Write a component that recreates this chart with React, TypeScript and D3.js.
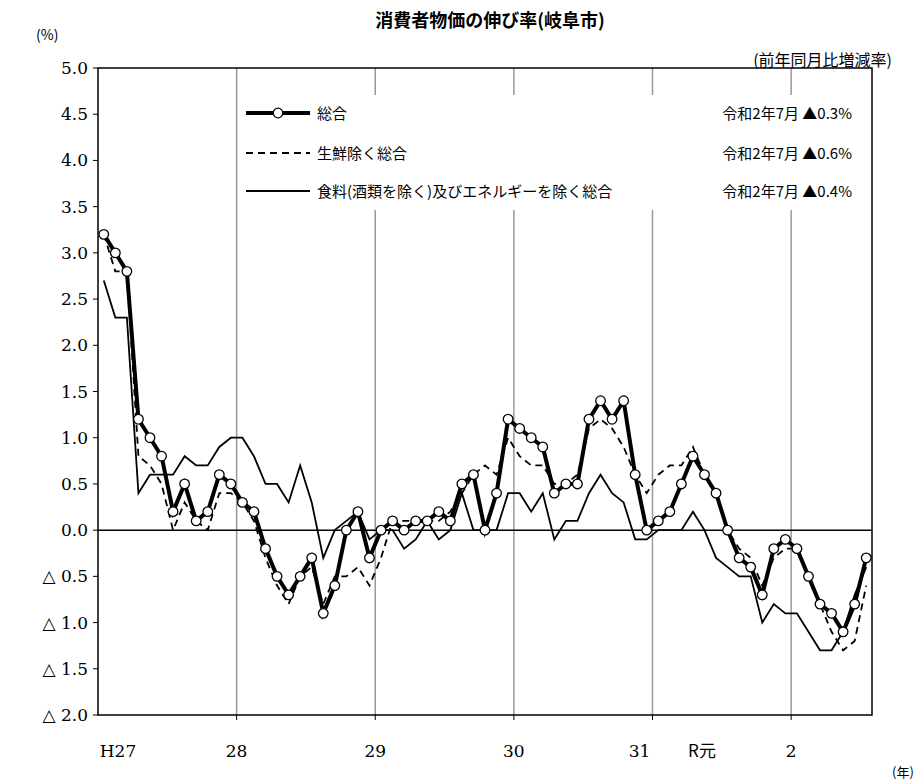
import React from 'react';
import * as d3 from 'd3';

// 2015/1 .. 2020/7 (67 months)
const total = [
  3.2, 3.0, 2.8, 1.2, 1.0, 0.8, 0.2, 0.5, 0.1, 0.2, 0.6, 0.5,
  0.3, 0.2, -0.2, -0.5, -0.7, -0.5, -0.3, -0.9, -0.6, 0.0, 0.2, -0.3,
  0.0, 0.1, 0.0, 0.1, 0.1, 0.2, 0.1, 0.5, 0.6, 0.0, 0.4, 1.2,
  1.1, 1.0, 0.9, 0.4, 0.5, 0.5, 1.2, 1.4, 1.2, 1.4, 0.6, 0.0,
  0.1, 0.2, 0.5, 0.8, 0.6, 0.4, 0.0, -0.3, -0.4, -0.7, -0.2, -0.1,
  -0.2, -0.5, -0.8, -0.9, -1.1, -0.8, -0.3,
];
const exFresh = [
  3.2, 2.8, 2.8, 0.8, 0.7, 0.5, 0.0, 0.3, 0.1, 0.0, 0.4, 0.4,
  0.3, 0.1, -0.3, -0.6, -0.8, -0.5, -0.4, -0.8, -0.5, -0.5, -0.4, -0.6,
  -0.3, 0.1, 0.1, 0.1, 0.1, 0.1, 0.2, 0.4, 0.6, 0.7, 0.6, 1.0,
  0.8, 0.7, 0.7, 0.5, 0.5, 0.6, 1.1, 1.2, 1.1, 0.9, 0.6, 0.4,
  0.6, 0.7, 0.7, 0.9, 0.6, 0.4, 0.0, -0.2, -0.3, -0.6, -0.3, -0.2,
  -0.2, -0.5, -0.8, -1.1, -1.3, -1.2, -0.6,
];
const exFoodEnergy = [
  2.7, 2.3, 2.3, 0.4, 0.6, 0.6, 0.6, 0.8, 0.7, 0.7, 0.9, 1.0,
  1.0, 0.8, 0.5, 0.5, 0.3, 0.7, 0.3, -0.3, 0.0, 0.1, 0.2, -0.1,
  0.0, 0.0, -0.2, -0.1, 0.1, -0.1, 0.0, 0.4, 0.0, 0.0, 0.0, 0.4,
  0.4, 0.2, 0.4, -0.1, 0.1, 0.1, 0.4, 0.6, 0.4, 0.3, -0.1, -0.1,
  0.0, 0.0, 0.0, 0.2, 0.0, -0.3, -0.4, -0.5, -0.5, -1.0, -0.8, -0.9,
  -0.9, -1.1, -1.3, -1.3, -1.1, -0.7, -0.4,
];
const yTicks = [5.0, 4.5, 4.0, 3.5, 3.0, 2.5, 2.0, 1.5, 1.0, 0.5, 0.0, -0.5, -1.0, -1.5, -2.0];
const yearLabels = ['H27', '28', '29', '30', '31', '2'];
const legendNames = ['総合', '生鮮除く総合', '食料(酒類を除く)及びエネルギーを除く総合'];
const legendNotes = ['令和2年7月 ▲0.3%', '令和2年7月 ▲0.6%', '令和2年7月 ▲0.4%'];

const W = 921, H = 781;
const left = 98, right = 872, top = 68, bottom = 715;
const jp = '"Noto Sans CJK JP", sans-serif';
const serif = '"DejaVu Serif", "Liberation Serif", serif';

export default function App() {
  const x = d3.scaleLinear().domain([-0.5, 66.5]).range([left, right]);
  const y = d3.scaleLinear().domain([-2, 5]).range([bottom, top]);
  const line = d3.line<number>().x((_, i) => x(i)).y(d => y(d));
  const fmt = (v: number) => (v < 0 ? `△ ${Math.abs(v).toFixed(1)}` : v.toFixed(1));
  const yearBounds = [1, 2, 3, 4, 5].map(k => 12 * k - 0.5);
  const legendY = [113, 153, 191];

  return (
    <svg width={W} height={H} style={{ position: 'absolute', left: 0, top: 0, background: '#fff' }}>
      <text x={490} y={27} textAnchor="middle" fontFamily={jp} fontWeight="bold" fontSize={18}>消費者物価の伸び率(岐阜市)</text>
      <text x={36} y={40} fontFamily={jp} fontSize={14}>(%)</text>
      <text x={892} y={66} textAnchor="end" fontFamily={jp} fontSize={16}>(前年同月比増減率)</text>

      {yearBounds.map(b => (
        <line key={b} x1={x(b)} x2={x(b)} y1={top} y2={bottom} stroke="#999" strokeWidth={1.5} />
      ))}
      <line x1={left} x2={right} y1={y(0)} y2={y(0)} stroke="#000" strokeWidth={1.5} />
      <rect x={left} y={top} width={right - left} height={bottom - top} fill="none" stroke="#000" strokeWidth={1.5} />

      {yTicks.map(t => (
        <g key={t}>
          <line x1={left - 5} x2={left} y1={y(t)} y2={y(t)} stroke="#000" />
          <text x={88} y={y(t) + 6} textAnchor="end" fontFamily={serif} fontSize={17}>{fmt(t)}</text>
        </g>
      ))}
      {yearBounds.map(b => (
        <line key={'t' + b} x1={x(b)} x2={x(b)} y1={bottom} y2={bottom + 5} stroke="#000" />
      ))}
      {yearLabels.map((l, i) => (
        <text key={l} x={i === 0 ? 118 : i === 4 ? x(47.5) - 13 : x(12 * i - 0.5)} y={757}
          textAnchor="middle" fontFamily={serif} fontSize={17}>{l}</text>
      ))}
      <text x={702} y={757} textAnchor="middle" fontFamily={jp} fontSize={17}>R元</text>
      <text x={903} y={777} textAnchor="middle" fontFamily={jp} fontSize={13}>(年)</text>

      <path d={line(exFoodEnergy) || ''} fill="none" stroke="#000" strokeWidth={1.8} />
      <path d={line(exFresh) || ''} fill="none" stroke="#000" strokeWidth={1.8} strokeDasharray="7,5" />
      <path d={line(total) || ''} fill="none" stroke="#000" strokeWidth={4} />
      {total.map((v, i) => (
        <circle key={i} cx={x(i)} cy={y(v)} r={4.8} fill="#fff" stroke="#000" strokeWidth={1.3} />
      ))}

      <rect x={240} y={95} width={620} height={115} fill="#fff" />
      {legendNames.map((n, i) => (
        <g key={n}>
          <line x1={246} x2={310} y1={legendY[i]} y2={legendY[i]} stroke="#000"
            strokeWidth={i === 0 ? 4 : 1.8} strokeDasharray={i === 1 ? '7,5' : undefined} />
          {i === 0 && <circle cx={278} cy={legendY[i]} r={4.8} fill="#fff" stroke="#000" strokeWidth={1.3} />}
          <text x={317} y={legendY[i] + 6} fontFamily={jp} fontSize={15}>{n}</text>
          <text x={852} y={legendY[i] + 6} textAnchor="end" fontFamily={jp} fontSize={15}>{legendNotes[i]}</text>
        </g>
      ))}
    </svg>
  );
}
